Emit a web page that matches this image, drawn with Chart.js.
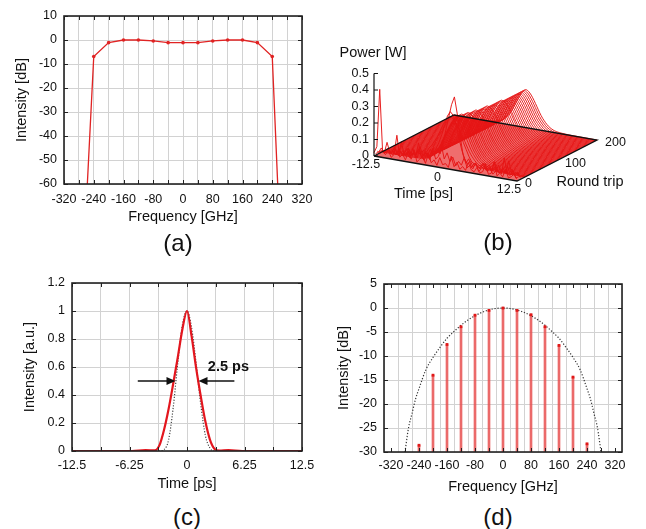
<!DOCTYPE html>
<html>
<head>
<meta charset="utf-8">
<script src="https://cdn.jsdelivr.net/npm/chart.js@4.4.1/dist/chart.umd.min.js"></script>
<style>
  html, body { margin: 0; padding: 0; background: #fff; }
  #fig { position: relative; width: 646px; height: 529px; overflow: hidden;
         font-family: "Liberation Sans", Arial, Helvetica, sans-serif; color: #111; }
  #fig canvas { position: absolute; }
  .tag { position: absolute; width: 60px; margin-left: -30px; text-align: center;
         font-size: 24px; line-height: 24px; }
</style>
</head>
<body>
<div id="fig">
  <canvas id="cA" width="323" height="230" style="left:0;top:0"></canvas>
  <canvas id="cB" width="323" height="230" style="left:323px;top:0"></canvas>
  <canvas id="cC" width="323" height="240" style="left:0;top:262px"></canvas>
  <canvas id="cD" width="323" height="240" style="left:323px;top:262px"></canvas>
  <div class="tag" style="left:178px;top:231px">(a)</div>
  <div class="tag" style="left:498px;top:230px">(b)</div>
  <div class="tag" style="left:187px;top:505px">(c)</div>
  <div class="tag" style="left:498px;top:505px">(d)</div>
</div>
<script>
// (a) filtered comb spectrum
var freqA = [-280, -240, -200, -160, -120, -80, -40, 0, 40, 80, 120, 160, 200, 240, 280];
var dbA   = [-130, -6.9, -1.1, 0, 0, -0.4, -1.1, -1.1, -1.1, -0.4, 0, 0, -1.1, -6.9, -152];

// (b) waterfall: early noisy round trips, then the settled pulse
var noiseTime = [-12.5, -12, -11.5, -11, -10.5, -10, -9.5, -9, -8.5, -8,
                 -7.5, -7, -6.5, -6, -5.5, -5, -4.5, -4, -3.5, -3,
                 -2.5, -2, -1.5, -1, -0.5, 0, 0.5, 1, 1.5, 2,
                 2.5, 3, 3.5, 4, 4.5, 5, 5.5, 6, 6.5, 7,
                 7.5, 8, 8.5, 9, 9.5, 10, 10.5, 11, 11.5, 12, 12.5];
var noiseRounds = [0, 4, 8, 12, 16];
var noisePower = [
  [0.02, 0.06, 0.41, 0.04, 0.02, 0.05, 0.01, 0.03, 0.15, 0.02,
   0.04, 0.01, 0.06, 0.02, 0.08, 0.01, 0.03, 0.05, 0.01, 0.07,
   0.02, 0.04, 0.01, 0.06, 0.02, 0.03, 0.01, 0.08, 0.02, 0.05,
   0.01, 0.03, 0.01, 0.06, 0.02, 0.01, 0.04, 0.01, 0.02, 0.07,
   0.01, 0.02, 0.09, 0.01, 0.03, 0.01, 0.06, 0.01, 0.02, 0.04, 0.01],
  [0.01, 0.02, 0.05, 0.02, 0.09, 0.03, 0.02, 0.06, 0.02, 0.11,
   0.03, 0.05, 0.02, 0.08, 0.03, 0.12, 0.04, 0.02, 0.07, 0.03,
   0.10, 0.04, 0.06, 0.13, 0.05, 0.09, 0.04, 0.07, 0.02, 0.05,
   0.03, 0.08, 0.02, 0.04, 0.02, 0.06, 0.01, 0.03, 0.05, 0.02,
   0.04, 0.01, 0.03, 0.07, 0.02, 0.12, 0.03, 0.02, 0.05, 0.01, 0.02],
  [0.02, 0.01, 0.03, 0.02, 0.04, 0.02, 0.06, 0.02, 0.03, 0.05,
   0.02, 0.07, 0.03, 0.05, 0.02, 0.09, 0.04, 0.06, 0.03, 0.08,
   0.05, 0.10, 0.07, 0.14, 0.22, 0.30, 0.38, 0.43, 0.33, 0.20,
   0.09, 0.04, 0.07, 0.02, 0.05, 0.03, 0.02, 0.06, 0.02, 0.04,
   0.02, 0.08, 0.03, 0.02, 0.05, 0.02, 0.10, 0.03, 0.02, 0.04, 0.01],
  [0.01, 0.02, 0.01, 0.04, 0.02, 0.03, 0.01, 0.05, 0.02, 0.03,
   0.06, 0.02, 0.04, 0.03, 0.07, 0.02, 0.05, 0.04, 0.08, 0.05,
   0.09, 0.13, 0.18, 0.24, 0.30, 0.33, 0.31, 0.26, 0.18, 0.11,
   0.06, 0.03, 0.05, 0.02, 0.04, 0.02, 0.03, 0.05, 0.01, 0.03,
   0.02, 0.04, 0.01, 0.03, 0.02, 0.06, 0.01, 0.02, 0.03, 0.01, 0.01],
  [0.01, 0.01, 0.02, 0.01, 0.03, 0.01, 0.02, 0.03, 0.01, 0.02,
   0.04, 0.02, 0.03, 0.05, 0.03, 0.06, 0.05, 0.08, 0.10, 0.13,
   0.16, 0.20, 0.24, 0.27, 0.29, 0.29, 0.27, 0.24, 0.20, 0.15,
   0.11, 0.07, 0.04, 0.03, 0.02, 0.03, 0.01, 0.02, 0.04, 0.01,
   0.02, 0.01, 0.03, 0.01, 0.02, 0.01, 0.04, 0.01, 0.02, 0.01, 0.01]
];
var pulseTime  = [-12.5, -8, -6, -5, -4, -3, -2.5, -2, -1.5, -1, -0.5, 0,
                  0.5, 1, 1.5, 2, 2.5, 3, 4, 5, 6, 8, 12.5];
var pulseShape = [0, 0, 0.01, 0.03, 0.09, 0.24, 0.36, 0.5, 0.66, 0.81, 0.93, 1,
                  0.97, 0.88, 0.75, 0.6, 0.45, 0.32, 0.14, 0.05, 0.02, 0.004, 0];
var pulseRounds = [20, 24, 28, 32, 36, 40, 44, 48, 52, 56, 60, 64, 68, 72, 76, 80,
                   84, 88, 92, 96, 100, 104, 108, 112, 116, 120, 124, 128, 132, 136,
                   140, 144, 148, 152, 156, 160, 164, 168, 172, 176, 180, 184, 188,
                   192, 196, 200];
var pulsePeak = [0.25, 0.27, 0.28, 0.28, 0.28, 0.28, 0.27, 0.27, 0.27, 0.27,
                 0.26, 0.26, 0.26, 0.26, 0.26, 0.25, 0.25, 0.25, 0.25, 0.25,
                 0.25, 0.25, 0.24, 0.24, 0.24, 0.24, 0.24, 0.24, 0.24, 0.24,
                 0.24, 0.23, 0.23, 0.23, 0.23, 0.23, 0.23, 0.23, 0.23, 0.23,
                 0.23, 0.23, 0.23, 0.23, 0.23, 0.23];
var powerTicks = [0, 0.1, 0.2, 0.3, 0.4, 0.5];
var timeTicks  = [-12.5, 0, 12.5];
var roundTicks = [0, 100, 200];

// (c) measured pulse and its fit
var timeC  = [-12.5, -6, -4.5, -3.5, -3, -2.5, -2, -1.5, -1, -0.5, 0,
              0.5, 1, 1.5, 2, 2.5, 3, 3.5, 4.5, 6, 12.5];
var pulseC = [0, 0, 0.006, 0.005, 0.04, 0.15, 0.30, 0.48, 0.67, 0.87, 1.0,
              0.82, 0.59, 0.39, 0.21, 0.08, 0.015, 0.003, 0.006, 0, 0];
var fitC   = [0, 0, 0, 0, 0, 0.01, 0.08, 0.31, 0.63, 0.9, 1.0,
              0.88, 0.62, 0.33, 0.11, 0.02, 0, 0, 0, 0, 0];
var fwhmC  = 2.5;

// (d) comb lines and envelope
var freqD = [-240, -200, -160, -120, -80, -40, 0, 40, 80, 120, 160, 200, 240];
var dbD   = [-28.6, -14.0, -7.6, -3.9, -1.5, -0.5, 0, -0.5, -1.4, -3.9, -7.8, -14.4, -28.3];
var envFreqD = [-280, -270, -260, -250, -240, -220, -200, -180, -160, -140, -120, -100,
                -80, -60, -40, -20, 0, 20, 40, 60, 80, 100, 120, 140, 160, 180, 200,
                220, 240, 250, 260, 270, 280];
var envDbD   = [-30, -25, -22, -19, -16.8, -12.8, -10.3, -8.2, -6.3, -4.9, -3.6, -2.5,
                -1.6, -0.9, -0.4, -0.1, 0, -0.1, -0.4, -0.9, -1.6, -2.5, -3.6, -4.9, -6.3,
                -8.2, -10.3, -12.8, -16.8, -19, -22, -25, -30];

var FONT = '"Liberation Sans", Arial, Helvetica, sans-serif';
Chart.defaults.font.family = FONT;
Chart.defaults.font.size = 12.5;
Chart.defaults.color = '#111';
Chart.defaults.animation = false;
Chart.defaults.events = [];
Chart.defaults.plugins.legend.display = false;
Chart.defaults.plugins.tooltip.enabled = false;

function xy(xs, ys) {
  return xs.map(function (x, i) { return { x: x, y: ys[i] }; });
}
function every(step) {
  return function (v) { return Math.abs(v % step) < 1e-9 ? String(v) : ''; };
}
function plain(v) { return String(Math.round(v * 10) / 10); }

/* linear axis with fixed box size so the plot areas line up */
function axis(o) {
  return {
    type: 'linear', min: o.min, max: o.max,
    ticks: { stepSize: o.step, autoSkip: false, maxRotation: 0, padding: o.pad, callback: o.label },
    grid: { color: '#d2d2d2', lineWidth: 1, drawTicks: false },
    border: { display: false },
    title: { display: true, text: o.title, font: { size: 14.5 }, padding: o.titlePad },
    afterFit: function (s) { if (s.isHorizontal()) s.height = o.size; else s.width = o.size; }
  };
}

/* box border with short inward ticks */
var framePlugin = {
  id: 'frame',
  afterDatasetsDraw: function (chart) {
    var a = chart.chartArea, ctx = chart.ctx, sx = chart.scales.x, sy = chart.scales.y;
    ctx.save();
    ctx.strokeStyle = '#222';
    ctx.lineWidth = 1;
    ctx.beginPath();
    sx.ticks.forEach(function (tk) {
      var px = Math.round(sx.getPixelForValue(tk.value)) + 0.5;
      ctx.moveTo(px, a.bottom); ctx.lineTo(px, a.bottom - 4);
      ctx.moveTo(px, a.top); ctx.lineTo(px, a.top + 4);
    });
    sy.ticks.forEach(function (tk) {
      var py = Math.round(sy.getPixelForValue(tk.value)) + 0.5;
      ctx.moveTo(a.left, py); ctx.lineTo(a.left + 4, py);
      ctx.moveTo(a.right, py); ctx.lineTo(a.right - 4, py);
    });
    ctx.stroke();
    ctx.lineWidth = 1.6;
    ctx.strokeRect(a.left, a.top, a.right - a.left, a.bottom - a.top);
    ctx.restore();
  }
};

/* ---------- (a) ---------- */
new Chart(document.getElementById('cA'), {
  type: 'line',
  data: { datasets: [{
    data: xy(freqA, dbA), borderColor: '#e02323', borderWidth: 1.3,
    pointRadius: 1.8, pointBackgroundColor: '#e02323', pointBorderWidth: 0, tension: 0
  }] },
  options: {
    responsive: false,
    layout: { padding: { left: 0, top: 16, right: 21, bottom: 0 } },
    scales: {
      x: axis({ min: -320, max: 320, step: 40, pad: 8, label: every(80), title: 'Frequency [GHz]',
                titlePad: { top: 0, bottom: 4 }, size: 46 }),
      y: axis({ min: -60, max: 10, step: 10, pad: 7, label: plain, title: 'Intensity [dB]',
                titlePad: { top: 13, bottom: 0 }, size: 64 })
    }
  },
  plugins: [framePlugin]
});

/* ---------- (b) ---------- */
// oblique view: time runs along the front edge, round trips recede up-right
var VIEW = { ox: 51, oy: 156, tx: 5.72, ty: 1.0, rx: 0.4, ry: -0.205, pz: 165 };
function project(t, r, p) {
  var u = t + 12.5;
  return { x: VIEW.ox + VIEW.tx * u + VIEW.rx * r, y: VIEW.oy + VIEW.ty * u + VIEW.ry * r - VIEW.pz * p };
}
function trace(times, powers, r) {
  return times.map(function (t, i) { return project(t, r, powers[i]); });
}

var bSets = [{
  // floor of the plot, outlined in black and tinted by the dense traces
  data: [project(-12.5, 0, 0), project(12.5, 0, 0), project(12.5, 200, 0),
         project(-12.5, 200, 0), project(-12.5, 0, 0)],
  borderColor: '#111', borderWidth: 1.3,
  fill: 'shape', backgroundColor: 'rgba(236,84,84,0.85)'
}, {
  data: [project(-12.5, 0, 0), project(-12.5, 0, 0.5)],
  borderColor: '#111', borderWidth: 1.2
}];
noiseRounds.forEach(function (r, k) {
  bSets.push({ data: trace(noiseTime, noisePower[k], r), tension: 0 });
});
pulseRounds.forEach(function (r, k) {
  var p = pulseShape.map(function (s) { return s * pulsePeak[k]; });
  bSets.push({ data: trace(pulseTime, p, r), tension: 0.3 });
});
bSets.forEach(function (ds, i) {
  ds.showLine = true;
  ds.pointRadius = 0;
  if (i > 0) ds.fill = false;
  if (i > 1) { ds.borderColor = 'rgba(230,20,20,0.95)'; ds.borderWidth = 1; }
});

var axes3d = {
  id: 'axes3d',
  afterDatasetsDraw: function (chart) {
    var ctx = chart.ctx, sx = chart.scales.x, sy = chart.scales.y;
    function at(t, r, p) {
      var q = project(t, r, p);
      return [sx.getPixelForValue(q.x), sy.getPixelForValue(q.y)];
    }
    ctx.save();
    ctx.fillStyle = '#111';
    ctx.strokeStyle = '#111';
    ctx.lineWidth = 1;
    ctx.font = '12.5px ' + FONT;
    ctx.textBaseline = 'middle';
    ctx.textAlign = 'right';
    powerTicks.forEach(function (p) {
      var q = at(-12.5, 0, p);
      ctx.beginPath(); ctx.moveTo(q[0], q[1]); ctx.lineTo(q[0] + 4, q[1]); ctx.stroke();
      ctx.fillText(String(p), q[0] - 5, q[1]);
    });
    ctx.textAlign = 'center';
    timeTicks.forEach(function (t) {
      var q = at(t, 0, 0);
      ctx.fillText(String(t), q[0] - 8, q[1] + 9);
    });
    ctx.textAlign = 'left';
    roundTicks.forEach(function (r) {
      var q = at(12.5, r, 0);
      ctx.fillText(String(r), q[0] + 8, q[1] + 3);
    });
    ctx.font = '14.5px ' + FONT;
    ctx.textAlign = 'center';
    var q = at(-12.5, 0, 0.5);
    ctx.fillText('Power [W]', q[0] - 1, q[1] - 21);
    q = at(0, 0, 0);
    ctx.fillText('Time [ps]', q[0] - 22, q[1] + 25);
    q = at(12.5, 100, 0);
    ctx.fillText('Round trip', q[0] + 33, q[1] + 21);
    ctx.restore();
  }
};

new Chart(document.getElementById('cB'), {
  type: 'scatter',
  data: { datasets: bSets },
  options: {
    responsive: false,
    layout: { padding: 0 },
    plugins: { filler: { drawTime: 'beforeDatasetsDraw' } },
    scales: {
      x: { type: 'linear', min: 0, max: 323, display: false },
      y: { type: 'linear', min: 0, max: 230, reverse: true, display: false }
    }
  },
  plugins: [axes3d]
});

/* ---------- (c) ---------- */
var fwhmPlugin = {
  id: 'fwhm',
  afterDatasetsDraw: function (chart) {
    var ctx = chart.ctx, sx = chart.scales.x, sy = chart.scales.y;
    var half = fwhmC / 2, py = sy.getPixelForValue(0.5);
    function arrow(from, to) {
      var x0 = sx.getPixelForValue(from), x1 = sx.getPixelForValue(to);
      var dir = x1 > x0 ? 1 : -1;
      ctx.beginPath(); ctx.moveTo(x0, py); ctx.lineTo(x1 - dir * 6, py); ctx.stroke();
      ctx.beginPath();
      ctx.moveTo(x1, py);
      ctx.lineTo(x1 - dir * 9, py - 4);
      ctx.lineTo(x1 - dir * 9, py + 4);
      ctx.closePath(); ctx.fill();
    }
    ctx.save();
    ctx.strokeStyle = '#111';
    ctx.fillStyle = '#111';
    ctx.lineWidth = 1.5;
    arrow(-half - 4.1, -half);
    arrow(half + 3.9, half);
    ctx.font = 'bold 14.5px ' + FONT;
    ctx.textAlign = 'center';
    ctx.textBaseline = 'middle';
    ctx.fillText(fwhmC + ' ps', sx.getPixelForValue(4.5), sy.getPixelForValue(0.6));
    ctx.restore();
  }
};

new Chart(document.getElementById('cC'), {
  type: 'line',
  data: { datasets: [{
    data: xy(timeC, pulseC), borderColor: '#e3161e', borderWidth: 2.2,
    pointRadius: 0, cubicInterpolationMode: 'monotone'
  }, {
    data: xy(timeC, fitC), borderColor: '#444', borderWidth: 1.2, borderDash: [1.2, 1.6],
    pointRadius: 0, cubicInterpolationMode: 'monotone'
  }] },
  options: {
    responsive: false,
    layout: { padding: { left: 0, top: 21, right: 21, bottom: 0 } },
    scales: {
      x: axis({ min: -12.5, max: 12.5, step: 3.125, pad: 7, label: every(6.25), title: 'Time [ps]',
                titlePad: { top: 0, bottom: 9 }, size: 51 }),
      y: axis({ min: 0, max: 1.2, step: 0.2, pad: 7, label: plain, title: 'Intensity [a.u.]',
                titlePad: { top: 21, bottom: 0 }, size: 72 })
    }
  },
  plugins: [framePlugin, fwhmPlugin]
});

/* ---------- (d) ---------- */
new Chart(document.getElementById('cD'), {
  type: 'line',
  data: { datasets: [{
    type: 'scatter', data: xy(freqD, dbD), showLine: false,
    pointStyle: 'rect', pointRadius: 2, pointBackgroundColor: '#e01818', pointBorderWidth: 0
  }, {
    data: xy(envFreqD, envDbD), borderColor: '#333', borderWidth: 1.2, borderDash: [1.2, 1.8],
    pointRadius: 0, cubicInterpolationMode: 'monotone'
  }, {
    type: 'bar', data: xy(freqD, dbD), base: -30, barThickness: 2,
    backgroundColor: 'rgba(232,80,80,0.85)', borderWidth: 0
  }] },
  options: {
    responsive: false,
    layout: { padding: { left: 0, top: 22, right: 24, bottom: 0 } },
    scales: {
      x: axis({ min: -320, max: 320, step: 40, pad: 6, label: every(80), title: 'Frequency [GHz]',
                titlePad: { top: 0, bottom: 6.5 }, size: 50 }),
      y: axis({ min: -30, max: 5, step: 5, pad: 7, label: plain, title: 'Intensity [dB]',
                titlePad: { top: 12.5, bottom: 0 }, size: 61 })
    }
  },
  plugins: [framePlugin]
});
</script>
</body>
</html>
